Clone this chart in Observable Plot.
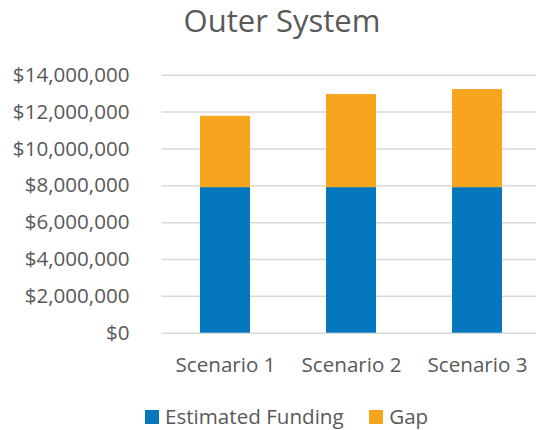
<!DOCTYPE html>
<html>
<head>
<meta charset="utf-8">
<script src="https://cdn.jsdelivr.net/npm/d3@7"></script>
<script src="https://cdn.jsdelivr.net/npm/@observablehq/plot@0.6"></script>
<style>
  body { margin: 0; background: #fff; font-family: "Open Sans", sans-serif; color: #595959; }
  #wrap { width: 536px; height: 430px; position: relative; overflow: hidden; }
  #title { position: absolute; top: -1px; left: 0; width: 536px; padding-left: 28px; box-sizing: border-box; text-align: center; font-size: 31px; color: #595959; white-space: nowrap; }
  #chart { position: absolute; top: 50px; left: 0; }
  #legend { position: absolute; top: 404px; left: 145px; display: flex; align-items: center; font-size: 20.6px; line-height: 24px; white-space: nowrap; }
  .item { display: flex; align-items: center; }
  .item + .item { margin-left: 25.5px; }
  .sw { width: 14px; height: 14px; display: inline-block; margin-right: 6px; position: relative; top: 1px; }
</style>
</head>
<body>
<div id="wrap">
  <div id="title">Outer System</div>
  <div id="chart"></div>
  <div id="legend"></div>
</div>
<script>
const categories = ["Scenario 1", "Scenario 2", "Scenario 3"];
const seriesNames = ["Estimated Funding", "Gap"];
const estimatedFunding = [7900000, 7900000, 7900000];
const gap = [3870000, 5050000, 5320000];
const colors = ["#0477BE", "#F7A41F"];
const yTicks = [0, 2000000, 4000000, 6000000, 8000000, 10000000, 12000000, 14000000];

const data = [];
categories.forEach((c, i) => {
  data.push({ scenario: c, series: seriesNames[0], value: estimatedFunding[i] });
  data.push({ scenario: c, series: seriesNames[1], value: gap[i] });
});

const fmt = d => "$" + d3.format(",")(d);

const plot = Plot.plot({
  width: 536,
  height: 335,
  marginLeft: 161.5,
  marginRight: 0,
  marginTop: 24.7,
  marginBottom: 52.3,
  style: { fontFamily: "Open Sans, sans-serif", fontSize: "20.6px", color: "#595959", background: "transparent", overflow: "visible" },
  x: { domain: categories, range: [161.5, 541.5], paddingInner: 0.6, paddingOuter: 0.3, label: null },
  y: { domain: [0, 14000000], label: null },
  color: { domain: seriesNames, range: colors },
  marks: [
    Plot.ruleY(yTicks, { stroke: "#d9d9d9", strokeWidth: 1.5 }),
    Plot.barY(data, Plot.stackY({ x: "scenario", y: "value", fill: "series", order: seriesNames })),
    Plot.axisY({ ticks: yTicks, tickFormat: fmt, tickSize: 0, tickPadding: 32.5, label: null, fill: "#595959" }),
    Plot.axisX({ tickSize: 0, tickPadding: 24, label: null, fill: "#595959" })
  ]
});
document.getElementById("chart").appendChild(plot);

const legend = document.getElementById("legend");
seriesNames.forEach((s, i) => {
  const item = document.createElement("div");
  item.className = "item";
  const sw = document.createElement("span");
  sw.className = "sw";
  sw.style.background = colors[i];
  const t = document.createElement("span");
  t.textContent = s;
  item.appendChild(sw);
  item.appendChild(t);
  legend.appendChild(item);
});
</script>
</body>
</html>
